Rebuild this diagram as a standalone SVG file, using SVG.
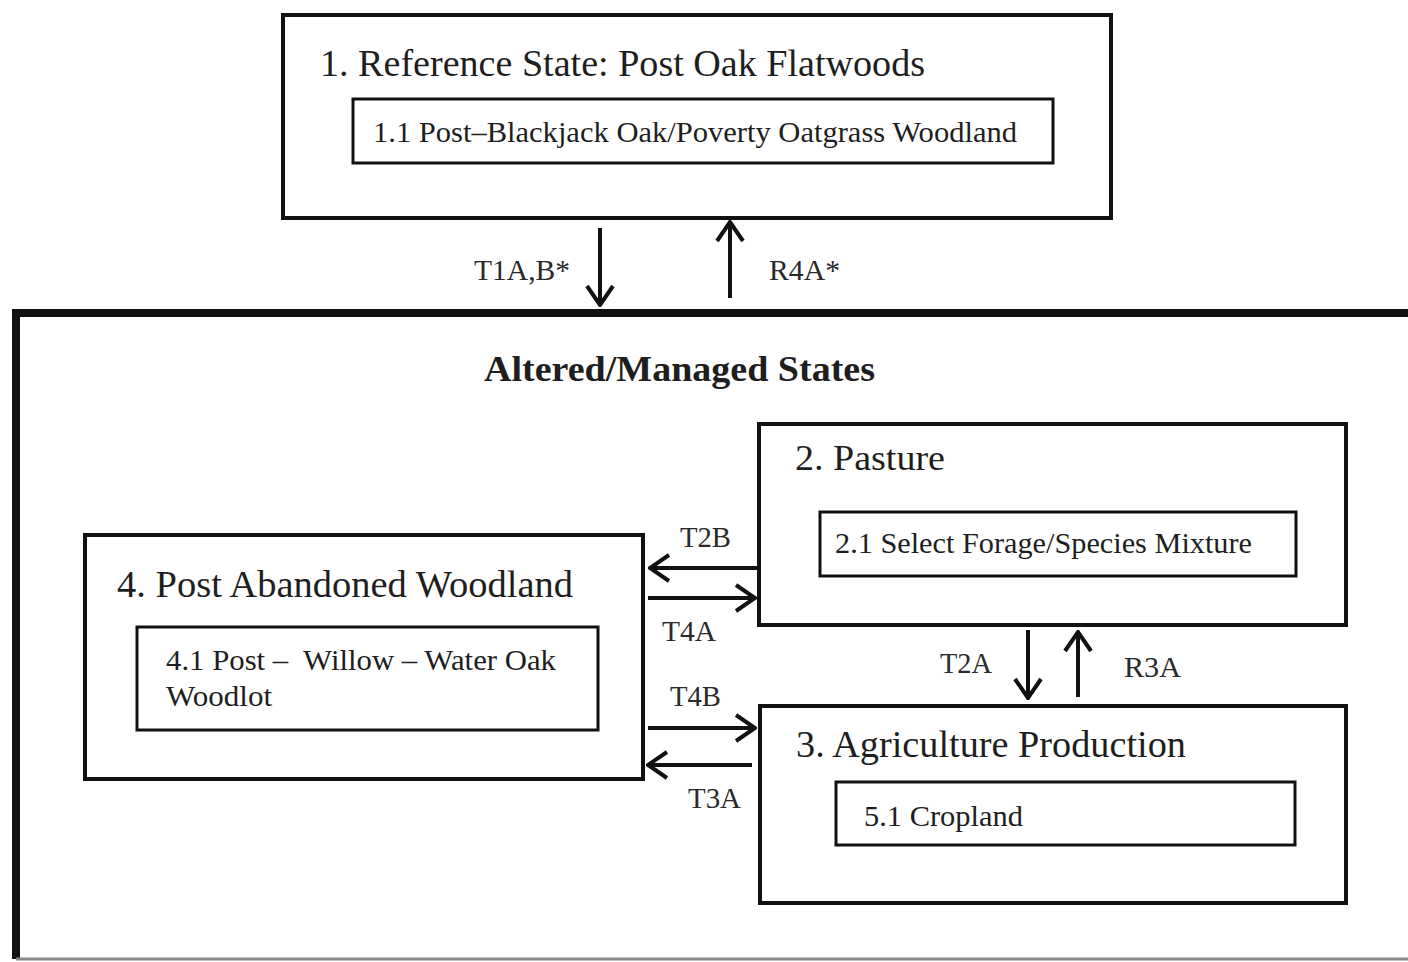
<svg xmlns="http://www.w3.org/2000/svg" width="1408" height="962" viewBox="0 0 1408 962">
<defs>
<style>
.box{fill:none;stroke:#111;stroke-width:4}
.inner{fill:none;stroke:#111;stroke-width:3}
.t{font-family:"Liberation Serif",serif;fill:#1e1e1e}
.lbl{font-family:"Liberation Serif",serif;fill:#2a2a2a;font-size:29px}
.arr{stroke:#111;stroke-width:4;fill:none;marker-end:url(#ah)}
</style>
<marker id="ah" markerUnits="userSpaceOnUse" viewBox="0 0 24 30" refX="22" refY="15" markerWidth="24" markerHeight="30" orient="auto">
<path d="M3,2 L22,15 L3,28" fill="none" stroke="#111" stroke-width="4"/>
</marker>
</defs>
<rect width="1408" height="962" fill="#fff"/>
<g id="state1">
<rect class="box" x="283" y="15" width="828" height="203"/>
<text class="t" x="320" y="76" font-size="37" textLength="605" lengthAdjust="spacingAndGlyphs">1. Reference State: Post Oak Flatwoods</text>
<g id="phase1-1">
<rect class="inner" x="353" y="99" width="700" height="64"/>
<text class="t" x="373" y="142" font-size="30" textLength="644" lengthAdjust="spacingAndGlyphs">1.1 Post–Blackjack Oak/Poverty Oatgrass Woodland</text>
</g>
</g>
<g id="altered">
<path d="M16,959 L16,313 L1412,313" fill="none" stroke="#111" stroke-width="8"/>
<line x1="16" y1="959" x2="1408" y2="959" stroke="#888" stroke-width="3"/>
<text class="t" x="484" y="381" font-size="35" font-weight="bold" textLength="391" lengthAdjust="spacingAndGlyphs">Altered/Managed States</text>
</g>
<g id="state2">
<rect class="box" x="759" y="424" width="587" height="201"/>
<text class="t" x="795" y="470" font-size="35" textLength="150" lengthAdjust="spacingAndGlyphs">2. Pasture</text>
<g id="phase2-1">
<rect class="inner" x="820" y="512" width="476" height="64"/>
<text class="t" x="835" y="553" font-size="29" textLength="417" lengthAdjust="spacingAndGlyphs">2.1 Select Forage/Species Mixture</text>
</g>
</g>
<g id="state4">
<rect class="box" x="85" y="535" width="558" height="244"/>
<text class="t" x="117" y="597" font-size="37" textLength="456" lengthAdjust="spacingAndGlyphs">4. Post Abandoned Woodland</text>
<g id="phase4-1">
<rect class="inner" x="137" y="627" width="461" height="103"/>
<text class="t" x="166" y="670" font-size="29" textLength="390" lengthAdjust="spacingAndGlyphs" xml:space="preserve">4.1 Post –  Willow – Water Oak</text>
<text class="t" x="166" y="706" font-size="29" textLength="106" lengthAdjust="spacingAndGlyphs">Woodlot</text>
</g>
</g>
<g id="state3">
<rect class="box" x="760" y="706" width="586" height="197"/>
<text class="t" x="796" y="757" font-size="37" textLength="390" lengthAdjust="spacingAndGlyphs">3. Agriculture Production</text>
<g id="phase5-1">
<rect class="inner" x="836" y="782" width="459" height="63"/>
<text class="t" x="864" y="826" font-size="29" textLength="159" lengthAdjust="spacingAndGlyphs">5.1 Cropland</text>
</g>
</g>
<g id="connectors">
<line class="arr" x1="600" y1="228" x2="600" y2="305"/>
<line class="arr" x1="730" y1="298" x2="730" y2="222"/>
<line class="arr" x1="757" y1="568" x2="650" y2="568"/>
<line class="arr" x1="648" y1="598" x2="755" y2="598"/>
<line class="arr" x1="648" y1="728" x2="755" y2="728"/>
<line class="arr" x1="752" y1="765" x2="648" y2="765"/>
<line class="arr" x1="1028" y1="630" x2="1028" y2="698"/>
<line class="arr" x1="1078" y1="697" x2="1078" y2="632"/>
<text class="lbl" x="474" y="280" textLength="96" lengthAdjust="spacingAndGlyphs">T1A,B*</text>
<text class="lbl" x="769" y="280" textLength="71" lengthAdjust="spacingAndGlyphs">R4A*</text>
<text class="lbl" x="680" y="547" textLength="51" lengthAdjust="spacingAndGlyphs">T2B</text>
<text class="lbl" x="662" y="641" textLength="54" lengthAdjust="spacingAndGlyphs">T4A</text>
<text class="lbl" x="670" y="706" textLength="51" lengthAdjust="spacingAndGlyphs">T4B</text>
<text class="lbl" x="688" y="808" textLength="53" lengthAdjust="spacingAndGlyphs">T3A</text>
<text class="lbl" x="940" y="673" textLength="52" lengthAdjust="spacingAndGlyphs">T2A</text>
<text class="lbl" x="1124" y="677" textLength="57" lengthAdjust="spacingAndGlyphs">R3A</text>
</g>
</svg>
